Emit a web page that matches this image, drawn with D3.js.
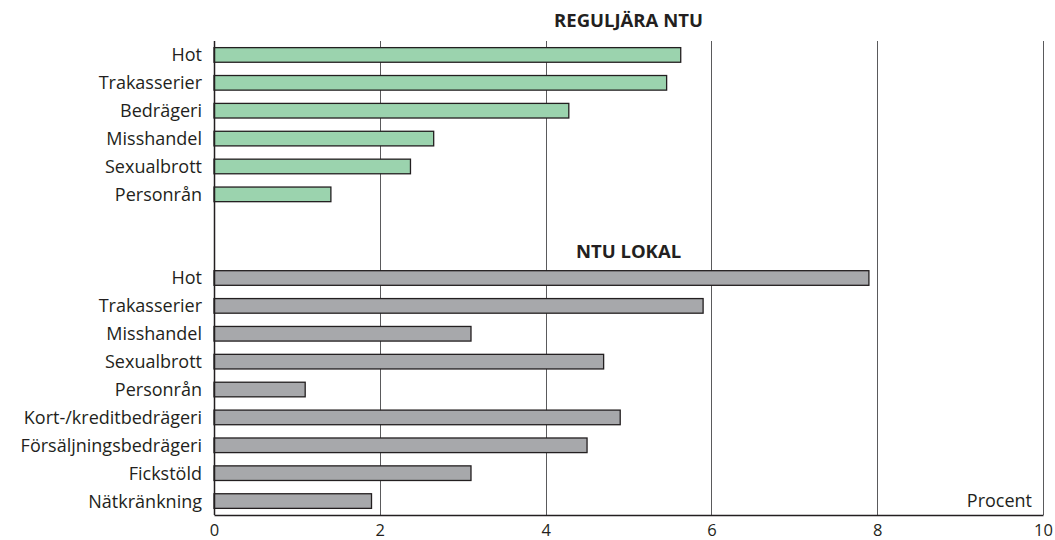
<!DOCTYPE html>
<html>
<head>
<meta charset="utf-8">
<script src="https://cdn.jsdelivr.net/npm/d3@7/dist/d3.min.js"></script>
<style>
  html, body { margin: 0; padding: 0; background: #ffffff; }
  svg { display: block; font-family: "Open Sans", "Noto Sans", sans-serif; }
</style>
</head>
<body>
<div id="chart"></div>
<script>
// ---- Data ----
const regularTitle = "REGULJÄRA NTU";
const regularCategories = ["Hot", "Trakasserier", "Bedrägeri", "Misshandel", "Sexualbrott", "Personrån"];
const regularValues = [5.63, 5.46, 4.28, 2.65, 2.37, 1.41];

const localTitle = "NTU LOKAL";
const localCategories = ["Hot", "Trakasserier", "Misshandel", "Sexualbrott", "Personrån",
  "Kort-/kreditbedrägeri", "Försäljningsbedrägeri", "Fickstöld", "Nätkränkning"];
const localValues = [7.9, 5.9, 3.1, 4.7, 1.1, 4.9, 4.5, 3.1, 1.9];

const xTicks = [0, 2, 4, 6, 8, 10];
const xDomain = [0, 10];
const unitLabel = "Procent";

// ---- Layout ----
const W = 1055, H = 540;
const margin = { top: 41, right: 12, bottom: 25, left: 214 };
const innerW = W - margin.left - margin.right;
const innerH = H - margin.top - margin.bottom;

const colors = { regular: "#9bd3ae", local: "#a7a8ab", stroke: "#231f20", grid: "#5a5a5c", text: "#231f20" };

// rows: regular rows, one spacer, local title row, local rows
const rows = [];
regularCategories.forEach((c, i) => rows.push({ key: "r" + i, label: c, value: regularValues[i], group: "regular" }));
rows.push({ key: "spacer", label: "", value: null, group: "none" });
rows.push({ key: "localTitle", label: "", value: null, group: "title" });
localCategories.forEach((c, i) => rows.push({ key: "l" + i, label: c, value: localValues[i], group: "local" }));

const svg = d3.select("#chart").append("svg").attr("width", W).attr("height", H);
const g = svg.append("g").attr("transform", `translate(${margin.left},${margin.top})`);

const x = d3.scaleLinear().domain(xDomain).range([0, innerW]);
const y = d3.scaleBand().domain(rows.map(d => d.key)).range([0, innerH]).paddingInner(0.44).paddingOuter(0.22);

// gridlines
g.selectAll("line.grid").data(xTicks.filter(t => t > 0)).join("line")
  .attr("class", "grid")
  .attr("x1", d => Math.round(x(d)) + 0.5).attr("x2", d => Math.round(x(d)) + 0.5)
  .attr("y1", 0).attr("y2", innerH)
  .attr("stroke", colors.grid).attr("stroke-width", 1);

// bars
const dataRows = rows.filter(d => d.value !== null);
g.selectAll("rect.bar").data(dataRows).join("rect")
  .attr("class", "bar")
  .attr("x", x(0))
  .attr("y", d => y(d.key) + 0.5)
  .attr("width", d => x(d.value) - x(0))
  .attr("height", y.bandwidth() - 1)
  .attr("fill", d => d.group === "regular" ? colors.regular : colors.local)
  .attr("stroke", colors.stroke).attr("stroke-width", 1.3);

// category labels
g.selectAll("text.cat").data(dataRows).join("text")
  .attr("class", "cat")
  .attr("x", -12)
  .attr("y", d => y(d.key) + y.bandwidth() / 2)
  .attr("dy", "0.36em")
  .attr("text-anchor", "end")
  .attr("font-size", 18)
  .attr("fill", colors.text)
  .text(d => d.label);

// left axis line
g.append("line").attr("x1", 0.5).attr("x2", 0.5).attr("y1", 0).attr("y2", innerH)
  .attr("stroke", colors.stroke).attr("stroke-width", 1.5);

// bottom axis
const xAxis = d3.axisBottom(x).tickValues(xTicks).tickSize(0).tickPadding(9).tickFormat(d3.format("d"));
const ax = g.append("g").attr("transform", `translate(0,${innerH})`).call(xAxis);
ax.select(".domain").attr("stroke", colors.stroke).attr("stroke-width", 1.5);
ax.selectAll("text").attr("font-size", 16.5).attr("fill", colors.text)
  .attr("font-family", "'Open Sans', 'Noto Sans', sans-serif");

// group titles
svg.append("text")
  .attr("x", margin.left + innerW / 2)
  .attr("y", 27)
  .attr("text-anchor", "middle")
  .attr("font-size", 18.5).attr("font-weight", 700).attr("fill", colors.text)
  .text(regularTitle);

g.append("text")
  .attr("x", innerW / 2)
  .attr("y", y("localTitle") + y.bandwidth() / 2)
  .attr("dy", "0.4em")
  .attr("text-anchor", "middle")
  .attr("font-size", 18.5).attr("font-weight", 700).attr("fill", colors.text)
  .text(localTitle);

// unit label
g.append("text")
  .attr("x", innerW - 11)
  .attr("y", innerH - 8)
  .attr("text-anchor", "end")
  .attr("font-size", 18).attr("fill", colors.text)
  .text(unitLabel);
</script>
</body>
</html>
